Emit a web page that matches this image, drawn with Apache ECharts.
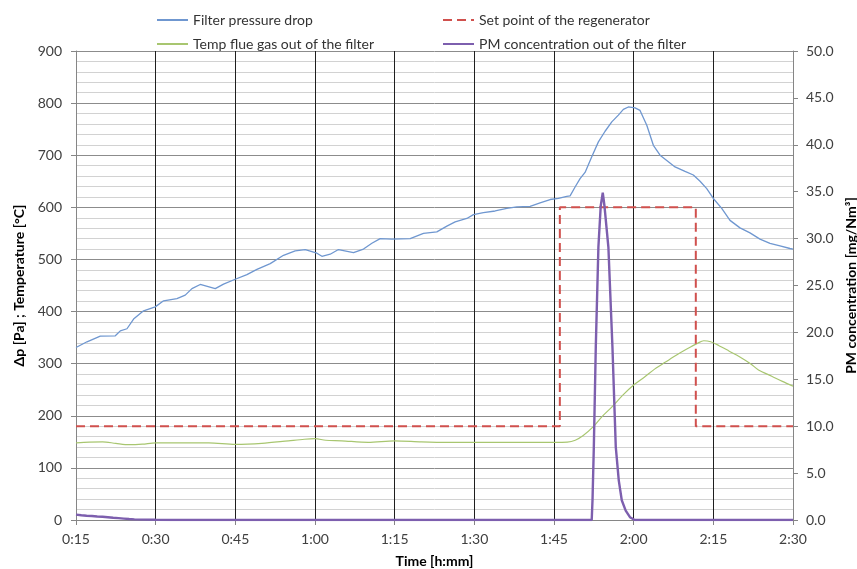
<!DOCTYPE html>
<html>
<head>
<meta charset="utf-8">
<script src="https://cdn.jsdelivr.net/npm/echarts@6/dist/echarts.min.js"></script>
<style>
  html, body { margin: 0; padding: 0; background: #fff; }
  #chart { width: 857px; height: 569px; }
</style>
</head>
<body>
<div id="chart"></div>
<script>
// Time in minutes since start of the run
const timeTicks = [15, 30, 45, 60, 75, 90, 105, 120, 135, 150];

// Filter pressure drop [Pa] : [minute, value]
const pressureDrop = [
  [15, 331], [17.07, 342], [19.57, 353], [22.4, 353.5], [23.34, 363], [24.6, 367],
  [25.84, 385.5], [27.72, 401.5], [29.92, 409], [31.49, 420.6], [34.0, 425], [35.57, 431.5],
  [36.83, 444], [38.39, 452], [41.22, 444], [42.78, 452.6], [44.98, 462], [47.18, 471],
  [49.07, 481], [51.57, 492], [54.07, 508], [56.27, 516.5], [58.16, 519], [60.36, 512],
  [61.3, 506], [62.86, 510], [64.42, 519], [67.25, 513], [69.13, 520], [70.71, 531],
  [72.27, 540], [74.47, 539], [77.92, 540], [80.42, 550], [82.94, 553], [84.83, 564],
  [86.39, 572], [88.59, 578.6], [89.83, 586], [91.71, 590], [93.92, 593], [96.12, 598],
  [98.0, 601], [100.5, 602], [102.38, 608.6], [104.27, 615], [105.83, 617], [107.41, 621],
  [108.03, 622], [108.97, 639], [109.91, 655], [110.85, 667], [112.11, 697], [113.36, 725.6],
  [114.62, 746], [115.88, 764], [117.12, 777], [118.06, 788], [119.0, 792.6], [120.26, 791],
  [121.2, 786], [122.47, 757.6], [123.71, 719], [124.97, 700], [126.23, 690], [127.79, 677.6],
  [129.67, 669], [131.24, 662], [132.5, 650], [133.76, 636], [135.0, 617], [136.58, 598],
  [138.14, 575], [140.02, 560.6], [141.9, 551], [143.78, 539], [145.67, 530.7], [147.55, 526],
  [149.43, 521], [150, 520]
];

// Regenerator set point [°C]
const setPoint = [
  [15, 180], [106.1, 180], [106.1, 600], [131.7, 600], [131.7, 180], [150, 180]
];

// Flue gas temperature downstream of the filter [°C]
const flueGasTemp = [
  [15, 148], [17.5, 149.5], [20, 150], [22.5, 147], [25, 144.5], [27.5, 145.5], [30, 148],
  [35, 148], [40, 148], [45, 145], [50, 147], [55, 152], [58, 155], [60, 156], [62, 153],
  [65, 152], [70, 149], [75, 152], [80, 150], [85, 149], [90, 149], [100, 149], [105, 149],
  [107.5, 149.5], [109, 153], [110.5, 162], [112.5, 180], [114, 198], [116, 218], [118, 240],
  [120, 259], [122, 274], [124, 290], [126, 303], [128, 316], [130, 328], [132, 339],
  [133.2, 344], [134.5, 342], [136, 335], [138, 324], [140, 313], [142, 300], [143.5, 288],
  [146, 276], [148, 266], [150, 257]
];

// PM concentration downstream of the filter [mg/Nm³]
const pmConcentration = [
  [15, 0.57], [16, 0.5], [17, 0.46], [18, 0.43], [19, 0.38], [20, 0.35], [21, 0.3],
  [22, 0.24], [23, 0.2], [24, 0.15], [25, 0.1], [26, 0.07], [28, 0.04], [30, 0.02], [33, 0],
  [112.1, 0], [112.25, 2.1], [112.5, 7.8], [112.87, 18.5], [113.36, 29.1], [113.8, 33.5],
  [114.18, 34.9], [114.5, 33.5], [115.24, 29.1], [116.0, 18.5], [116.63, 7.8], [117.2, 4.2],
  [117.76, 2.1], [118.5, 1.0], [119.3, 0.3], [120.2, 0], [150, 0]
];

const seriesNames = [
  'Filter pressure drop',
  'Set point of the regenerator',
  'Temp flue gas out of the filter',
  'PM concentration out of the filter'
];

const FONT = 'Lato';
const fmtTime = v => Math.floor(v / 60) + ':' + String(Math.round(v % 60)).padStart(2, '0');

const chart = echarts.init(document.getElementById('chart'), null, { renderer: 'canvas' });

// vertical grid lines: grey at the plot edges, dark inside
const vLineColors = timeTicks.map((t, i) => (i === 0 || i === timeTicks.length - 1) ? '#a0a0a0' : '#1f1f1f');

const legendCommon = {
  orient: 'vertical', top: 8, itemWidth: 31, itemHeight: 14, itemGap: 10,
  itemStyle: { opacity: 0 },
  textStyle: { fontFamily: FONT, fontSize: 14, color: '#333333' }
};

chart.setOption({
  animation: false,
  backgroundColor: '#ffffff',
  textStyle: { fontFamily: FONT },
  grid: { left: 76, right: 64, top: 51, bottom: 49, containLabel: false, outerBoundsMode: 'none' },
  legend: [
    Object.assign({ data: [seriesNames[0], seriesNames[2]], left: 151 }, legendCommon),
    Object.assign({ data: [seriesNames[1], seriesNames[3]], left: 437 }, legendCommon)
  ],
  xAxis: {
    type: 'value', min: 15, max: 150, interval: 15,
    name: 'Time [h:mm]', nameLocation: 'middle', nameGap: 34,
    nameTextStyle: { fontFamily: FONT, fontWeight: 'bold', fontSize: 14, color: '#000' },
    axisLine: { show: true, lineStyle: { color: '#868686', width: 1 } },
    axisTick: { show: true, length: 5, lineStyle: { color: '#868686' } },
    axisLabel: { formatter: fmtTime, fontFamily: FONT, fontSize: 14, color: '#404040', margin: 12 },
    splitLine: { show: true, lineStyle: { color: vLineColors, width: 1 } }
  },
  yAxis: [
    {
      type: 'value', min: 0, max: 900, interval: 100, position: 'left',
      name: 'Δp [Pa] ; Temperature [°C]', nameLocation: 'middle', nameGap: 49, nameRotate: 90,
      nameTextStyle: { fontFamily: FONT, fontWeight: 'bold', fontSize: 14, color: '#000' },
      axisLine: { show: true, lineStyle: { color: '#868686' } },
      axisTick: { show: true, length: 5, lineStyle: { color: '#868686' } },
      axisLabel: { fontFamily: FONT, fontSize: 14, color: '#404040', margin: 14 },
      splitLine: { show: true, lineStyle: { color: '#8c8c8c', width: 1 } },
      minorTick: { show: false, splitNumber: 5 },
      minorSplitLine: { show: true, lineStyle: { color: '#d2d2d2', width: 1 } }
    },
    {
      type: 'value', min: 0, max: 50, interval: 5, position: 'right',
      name: 'PM concentration [mg/Nm³]', nameLocation: 'middle', nameGap: 49, nameRotate: 90,
      nameTextStyle: { fontFamily: FONT, fontWeight: 'bold', fontSize: 14, color: '#000' },
      axisLine: { show: true, lineStyle: { color: '#868686' } },
      axisTick: { show: true, length: 5, lineStyle: { color: '#868686' } },
      axisLabel: { fontFamily: FONT, fontSize: 14, color: '#404040', margin: 13,
                   formatter: v => v.toFixed(1) },
      splitLine: { show: false }
    }
  ],
  series: [
    {
      name: seriesNames[0], type: 'line', yAxisIndex: 0, data: pressureDrop,
      showSymbol: false, symbol: 'none', z: 3,
      lineStyle: { color: '#6f97d0', width: 1.3 }, itemStyle: { color: '#6f97d0' }
    },
    {
      name: seriesNames[1], type: 'line', yAxisIndex: 0, data: setPoint,
      showSymbol: false, symbol: 'none', z: 4,
      lineStyle: { color: '#d0504d', width: 2, type: [9, 5] }, itemStyle: { color: '#d0504d' }
    },
    {
      name: seriesNames[2], type: 'line', yAxisIndex: 0, data: flueGasTemp,
      showSymbol: false, symbol: 'none', smooth: 0.3, z: 3,
      lineStyle: { color: '#a8c670', width: 1.2 }, itemStyle: { color: '#a8c670' }
    },
    {
      name: seriesNames[3], type: 'line', yAxisIndex: 1, data: pmConcentration,
      showSymbol: false, symbol: 'none', z: 5,
      lineStyle: { color: '#7d5fae', width: 2.4 }, itemStyle: { color: '#7d5fae' }
    }
  ]
});
</script>
</body>
</html>
